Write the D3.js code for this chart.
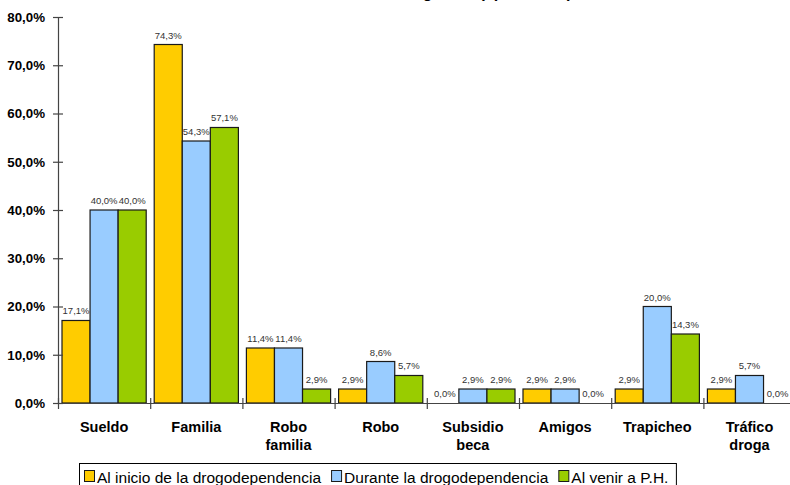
<!DOCTYPE html>
<html>
<head>
<meta charset="utf-8">
<script src="https://cdn.jsdelivr.net/npm/d3@7"></script>
<style>
  body { margin: 0; background: #fff; }
  svg { display: block; font-family: "Liberation Sans", Arial, Helvetica, sans-serif; }
</style>
</head>
<body>
<svg id="chart" width="790" height="485"></svg>
<script>
// Categories (multi-line labels split on "\n")
const categories = ["Sueldo", "Familia", "Robo\nfamilia", "Robo", "Subsidio\nbeca", "Amigos", "Trapicheo", "Tráfico\ndroga"];
const seriesNames = ["Al inicio de la drogodependencia", "Durante la drogodependencia", "Al venir a P.H."];
const seriesColors = ["#FFCC00", "#99CCFF", "#99CC00"];
// Percent values per series, in category order
const inicio  = [17.1, 74.3, 11.4, 2.9, 0.0, 2.9, 2.9, 2.9];
const durante = [40.0, 54.3, 11.4, 8.6, 2.9, 2.9, 20.0, 5.7];
const venir   = [40.0, 57.1, 2.9, 5.7, 2.9, 0.0, 14.3, 0.0];
const yTicks = [0, 10, 20, 30, 40, 50, 60, 70, 80];
const titleText = "Fuentes de ingresos (aportación)";

const seriesValues = [inicio, durante, venir];
const svg = d3.select("#chart");

const left = 58, bandW = 92.2;
const x = d3.scaleBand().domain(categories).range([left, left + bandW * categories.length]).padding(0);
const xEdge = d3.scaleLinear().domain([0, categories.length]).range(x.range());
const x1 = d3.scaleBand().domain(seriesNames).range([4, x.bandwidth() - 4]).padding(0);
const y = d3.scaleLinear().domain([0, 80]).range([403, 17]);
const fmt = v => d3.format(".1f")(v).replace(".", ",") + "%";

// Title: sits above the top edge, only its descenders reach the page
svg.append("text").attr("x", 572).attr("y", -2.2).attr("text-anchor", "end")
  .attr("font-size", 16).attr("font-weight", "bold").attr("fill", "#000").text(titleText);

// Bars
const groups = svg.append("g").selectAll("g").data(categories).join("g")
  .attr("transform", d => `translate(${x(d)},0)`);
groups.each(function (cat, ci) {
  const g = d3.select(this);
  seriesNames.forEach((s, si) => {
    const v = seriesValues[si][ci];
    g.append("rect")
      .attr("x", x1(s)).attr("y", y(v))
      .attr("width", x1.bandwidth()).attr("height", y(0) - y(v))
      .attr("fill", seriesColors[si]).attr("stroke", v > 0 ? "#1a1a1a" : "none").attr("stroke-width", 1.2);
    g.append("text")
      .attr("x", x1(s) + x1.bandwidth() / 2).attr("y", y(v) - 6)
      .attr("text-anchor", "middle").attr("font-size", 9.5).attr("fill", "#333")
      .text(fmt(v));
  });
});

// Y axis
const yAxis = svg.append("g").attr("transform", `translate(${left},0)`)
  .call(d3.axisLeft(y).tickValues(yTicks).tickFormat(fmt).tickSizeOuter(0).tickSize(5).tickPadding(8));
yAxis.select(".domain").attr("stroke", "#444").attr("stroke-width", 1.2);
yAxis.selectAll(".tick line").attr("x1", -5).attr("x2", 5).attr("stroke", "#444").attr("stroke-width", 1.2);
yAxis.selectAll(".tick text").attr("font-size", 13.3).attr("font-weight", "bold").attr("fill", "#000")
  .attr("font-family", "Liberation Sans, Arial, sans-serif");

// X axis (ticks at category boundaries)
const xAxis = svg.append("g").attr("transform", `translate(0,${y(0)})`)
  .call(d3.axisBottom(xEdge).tickValues(d3.range(categories.length + 1)).tickFormat("").tickSizeOuter(0));
xAxis.select(".domain").attr("stroke", "#444").attr("stroke-width", 1.2);
xAxis.selectAll(".tick line").attr("y1", -5).attr("y2", 6).attr("stroke", "#444").attr("stroke-width", 1.2);

// Category labels
const labels = svg.append("g").selectAll("text").data(categories).join("text")
  .attr("x", d => x(d) + x.bandwidth() / 2).attr("y", 432)
  .attr("text-anchor", "middle").attr("font-size", 14.5).attr("font-weight", "bold").attr("fill", "#000");
labels.each(function (d) {
  d3.select(this).selectAll("tspan").data(d.split("\n")).join("tspan")
    .attr("x", x(d) + x.bandwidth() / 2).attr("dy", (t, i) => i === 0 ? 0 : 18).text(t => t);
});

// Legend
const legend = svg.append("g");
const legBox = legend.append("rect").attr("x", 79.5).attr("y", 463.5).attr("height", 40)
  .attr("fill", "#fff").attr("stroke", "#000").attr("stroke-width", 1);
let lx = 84;
seriesNames.forEach((s, i) => {
  legend.append("rect").attr("x", lx + 0.5).attr("y", 470.5).attr("width", 10).attr("height", 11)
    .attr("fill", seriesColors[i]).attr("stroke", "#1a1a1a").attr("stroke-width", 1);
  const t = legend.append("text").attr("x", lx + 13).attr("y", 483).attr("font-size", 15.5).attr("fill", "#000").text(s);
  lx = lx + 13 + t.node().getComputedTextLength() + 10;
});
legBox.attr("width", lx - 79.5 - 2);
</script>
</body>
</html>
